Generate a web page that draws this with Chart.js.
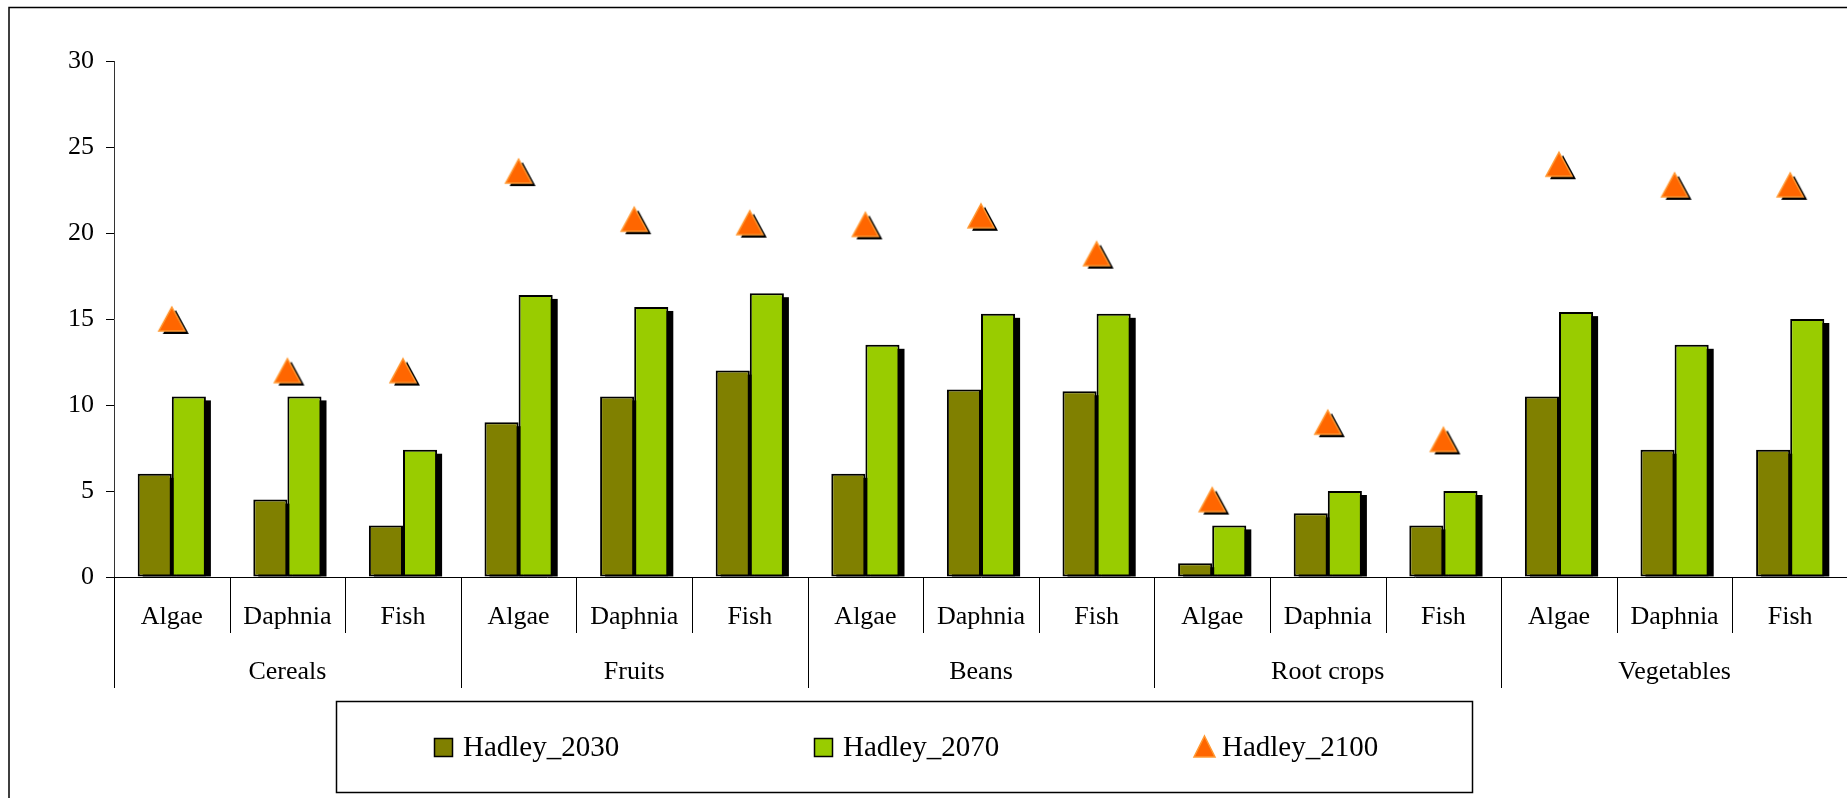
<!DOCTYPE html>
<html>
<head>
<meta charset="utf-8">
<script src="https://cdn.jsdelivr.net/npm/chart.js@4.4.1/dist/chart.umd.min.js"></script>
<style>
  html, body { margin: 0; padding: 0; background: #fff; overflow: hidden; }
</style>
</head>
<body>
<canvas id="chart" width="1848" height="798"></canvas>
<script>
// crop groups and the organisms tested inside each one
const groups = ['Cereals', 'Fruits', 'Beans', 'Root crops', 'Vegetables'];
const organisms = ['Algae', 'Daphnia', 'Fish'];
const seriesNames = ['Hadley_2030', 'Hadley_2070', 'Hadley_2100'];

// values, one per group x organism
const hadley2030 = [6, 4.5, 3, 9, 10.5, 12, 6, 10.9, 10.8, 0.8, 3.7, 3, 10.5, 7.4, 7.4];
const hadley2070 = [10.5, 10.5, 7.4, 16.4, 15.7, 16.5, 13.5, 15.3, 15.3, 3, 5, 5, 15.4, 13.5, 15];
const hadley2100 = [15, 12, 12, 23.6, 20.8, 20.6, 20.5, 21, 18.8, 4.5, 9, 8, 24, 22.8, 22.8];

const yMin = 0, yMax = 30, yStep = 5;

const labels = groups.flatMap(() => organisms);
const FONT = '"Liberation Serif", "Times New Roman", serif';
const OLIVE = '#808000', LIME = '#99CC00', ORANGE = '#FF6600', ORANGE_EDGE = '#FF9933';

// triangle marker (optionally with the black drop shadow), centred on its box
function makeTriangle(w, h, shadow) {
    const dx = shadow ? 4 : 0, dy = shadow ? 3 : 0;
    const c = document.createElement('canvas');
    c.width = w + 2 * dx + 4;
    c.height = h + 2 * dy + 4;
    const ctx = c.getContext('2d');
    const cx = c.width / 2, cy = c.height / 2;
    const tri = (ox, oy) => {
        ctx.beginPath();
        ctx.moveTo(cx + ox, cy - h / 2 + oy);
        ctx.lineTo(cx + w / 2 + ox, cy + h / 2 + oy);
        ctx.lineTo(cx - w / 2 + ox, cy + h / 2 + oy);
        ctx.closePath();
    };
    if (shadow) { tri(dx, dy); ctx.fillStyle = '#000'; ctx.fill(); }
    tri(0, 0);
    ctx.fillStyle = ORANGE;
    ctx.fill();
    ctx.lineWidth = 1.5;
    ctx.strokeStyle = ORANGE_EDGE;
    ctx.stroke();
    return c;
}
const triMarker = makeTriangle(26, 24, true);
const triLegend = makeTriangle(21, 21, false);

// outer frame (only top/left are inside the picture)
const framePlugin = {
    id: 'frame',
    beforeDraw(chart) {
        const ctx = chart.ctx;
        ctx.save();
        ctx.fillStyle = '#fff';
        ctx.fillRect(0, 0, chart.width, chart.height);
        ctx.strokeStyle = '#000';
        ctx.lineWidth = 1.5;
        ctx.strokeRect(9, 7.5, chart.width + 50, chart.height + 50);
        ctx.restore();
    }
};

// black shadow to the lower right of each bar
const barShadow = {
    id: 'barShadow',
    beforeDatasetsDraw(chart) {
        const ctx = chart.ctx;
        ctx.save();
        ctx.fillStyle = '#000';
        [0, 1].forEach(i => {
            chart.getDatasetMeta(i).data.forEach(bar => {
                const left = bar.x - bar.width / 2;
                ctx.fillRect(left + 5, bar.y + 4, bar.width, bar.base - bar.y - 4);
            });
        });
        ctx.restore();
    }
};

// separators between categories and the group row underneath
const groupAxis = {
    id: 'groupAxis',
    afterDraw(chart) {
        const x = chart.scales.x, ctx = chart.ctx;
        const base = chart.chartArea.bottom;
        const half = (x.getPixelForValue(1) - x.getPixelForValue(0)) / 2;
        ctx.save();
        ctx.strokeStyle = '#000';
        ctx.lineWidth = 1;
        labels.forEach((_, i) => {
            const px = Math.round(x.getPixelForValue(i) - half) + 0.5;
            const groupStart = i % organisms.length === 0;
            ctx.beginPath();
            ctx.moveTo(px, base);
            ctx.lineTo(px, base + (groupStart ? 111 : 56));
            ctx.stroke();
        });
        ctx.font = '26px ' + FONT;
        ctx.fillStyle = '#000';
        ctx.textAlign = 'center';
        ctx.textBaseline = 'alphabetic';
        groups.forEach((g, gi) => {
            const mid = x.getPixelForValue(gi * organisms.length + 1);
            ctx.fillText(g, mid, base + 102);
        });
        ctx.restore();
    }
};

// boxed legend under the axis
const boxLegend = {
    id: 'boxLegend',
    afterDraw(chart) {
        const ctx = chart.ctx;
        ctx.save();
        ctx.strokeStyle = '#000';
        ctx.lineWidth = 1.5;
        ctx.strokeRect(336.5, 701.5, 1136, 91);
        ctx.font = '29px ' + FONT;
        ctx.fillStyle = '#000';
        ctx.textBaseline = 'alphabetic';
        ctx.textAlign = 'left';
        chart.data.datasets.forEach((ds, i) => {
            const mx = 434 + i * 380;
            if (ds.type === 'line') {
                ctx.drawImage(triLegend, mx - 2, 736 - 2);
                ctx.fillText(ds.label, mx + 28, 756);
            } else {
                ctx.fillStyle = ds.backgroundColor;
                ctx.fillRect(mx, 738, 19, 19);
                ctx.strokeRect(mx + 0.5, 738.5, 18, 18);
                ctx.fillStyle = '#000';
                ctx.fillText(ds.label, mx + 29, 756);
            }
        });
        ctx.restore();
    }
};

new Chart(document.getElementById('chart'), {
    type: 'bar',
    data: {
        labels,
        datasets: [
            { label: seriesNames[0], data: hadley2030, backgroundColor: OLIVE, borderColor: '#000', borderWidth: 2, borderSkipped: false },
            { label: seriesNames[1], data: hadley2070, backgroundColor: LIME, borderColor: '#000', borderWidth: 2, borderSkipped: false },
            { label: seriesNames[2], data: hadley2100, type: 'line', showLine: false,
              pointStyle: triMarker, pointRadius: 12, pointHoverRadius: 12 }
        ]
    },
    options: {
        responsive: false,
        animation: false,
        events: [],
        layout: { autoPadding: false, padding: { top: 61, left: 0, right: 0, bottom: 0 } },
        datasets: { bar: { categoryPercentage: 0.59, barPercentage: 1.0 } },
        plugins: { legend: { display: false }, tooltip: { enabled: false } },
        scales: {
            x: {
                offset: true,
                grid: { display: false, drawTicks: false },
                border: { display: true, color: '#000', width: 1 },
                ticks: { color: '#000', font: { family: FONT, size: 26 }, padding: 25, maxRotation: 0, autoSkip: false },
                afterFit(scale) {
                    scale.height = 221;
                    scale.paddingLeft = 0;
                    scale.paddingRight = 0;
                }
            },
            y: {
                min: yMin, max: yMax,
                grid: { drawOnChartArea: false, drawTicks: true, tickLength: 8, color: '#000' },
                border: { display: true, color: '#333', width: 1 },
                ticks: { stepSize: yStep, color: '#000', font: { family: FONT, size: 26 }, padding: 12 },
                afterFit(scale) { scale.width = 114; }
            }
        }
    },
    plugins: [framePlugin, barShadow, groupAxis, boxLegend]
});
</script>
</body>
</html>
